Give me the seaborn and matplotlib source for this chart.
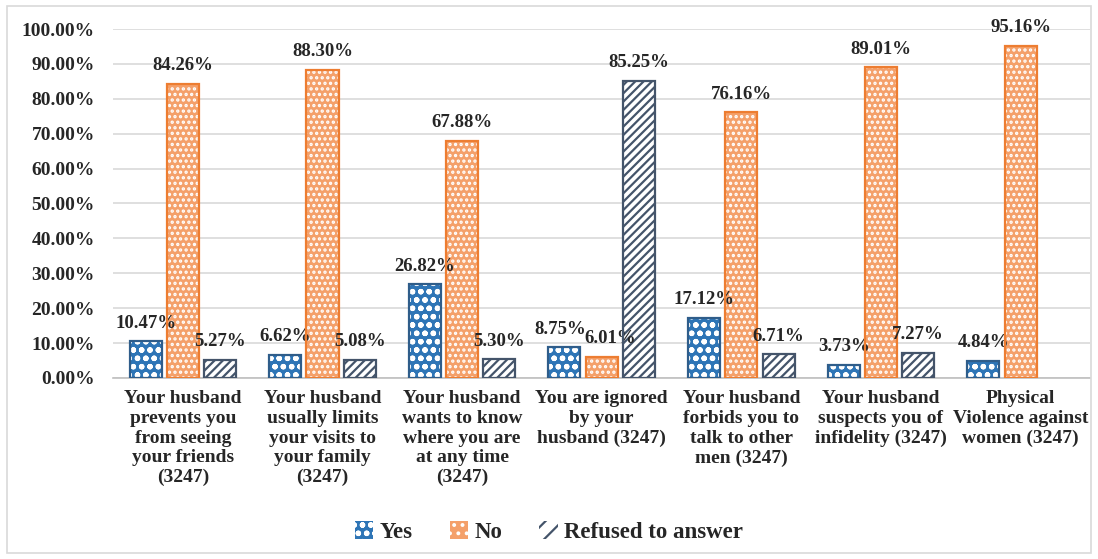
import numpy as np
import pandas as pd
import seaborn as sns
import matplotlib.pyplot as plt
from matplotlib.patches import Rectangle
from matplotlib.ticker import FuncFormatter

# categories and series values (percent)
categories = [
    "Your husband\nprevents you\nfrom seeing\nyour friends\n(3247)",
    "Your husband\nusually limits\nyour visits to\nyour family\n(3247)",
    "Your husband\nwants to know\nwhere you are\nat any time\n(3247)",
    "You are ignored\nby your\nhusband (3247)",
    "Your husband\nforbids you to\ntalk to other\nmen (3247)",
    "Your husband\nsuspects you of\ninfidelity (3247)",
    "Physical\nViolence against\nwomen (3247)",
]
yes_vals = [10.47, 6.62, 26.82, 8.75, 17.12, 3.73, 4.84]
no_vals = [84.26, 88.30, 67.88, 6.01, 76.16, 89.01, 95.16]
refused_vals = [5.27, 5.08, 5.30, 85.25, 6.71, 7.27, 0.0]
series = ["Yes", "No", "Refused to answer"]

df = pd.DataFrame({
    "cat": categories * 3,
    "resp": sum([[s] * len(categories) for s in series], []),
    "pct": yes_vals + no_vals + refused_vals,
})

sns.set_style("white")
plt.rcParams["font.family"] = ["Liberation Serif", "DejaVu Serif"]
plt.rcParams["font.weight"] = "bold"
plt.rcParams["hatch.linewidth"] = 1.6

fig = plt.figure(figsize=(10.98, 5.59), dpi=100)
ax = fig.add_axes([0.103, 0.324, 0.890, 0.624])

sns.barplot(data=df, x="cat", y="pct", hue="resp", hue_order=series,
            order=categories, width=0.8, ax=ax, legend=False, errorbar=None)

# style per series: face, hatch, hatch colour, outline
styles = {
    "Yes": ("#2E75B6", "oo", "white", "#2F5D8A"),
    "No": ("#F4A06A", "...", "white", "#ED7D31"),
    "Refused to answer": ("white", "////", "#44546A", "#44546A"),
}
# small sideways nudges (points) for crowded labels: (series, category index)
nudges = {("Yes", 3): -3, ("No", 3): 6}

handles = []
for cont, s in zip(ax.containers, series):
    face, hatch, hcol, edge = styles[s]
    for p in cont.patches:
        w = p.get_width()
        p.set_x(p.get_x() + w * 0.07)
        p.set_width(w * 0.86)
        p.set_facecolor(face)
        p.set_hatch(hatch)
        p.set_edgecolor(hcol)
        p.set_linewidth(0)
        if p.get_height() > 0:
            ax.add_patch(Rectangle((p.get_x(), 0), p.get_width(), p.get_height(),
                                   fill=False, edgecolor=edge, linewidth=1.6, zorder=3))
    labels = [f"{v:.2f}%" if v > 0 else "" for v in cont.datavalues]
    texts = ax.bar_label(cont, labels=labels, padding=7, fontsize=13.5, fontweight="bold")
    for i, t in enumerate(texts):
        if (s, i) in nudges:
            dx, dy = t.xyann
            t.xyann = (dx + nudges[(s, i)], dy)
    handles.append(Rectangle((0, 0), 1, 1, facecolor=face, hatch=hatch[:2],
                             edgecolor=hcol, linewidth=0))

ax.set_ylim(0, 100)
ax.set_yticks(np.arange(0, 101, 10))
ax.yaxis.set_major_formatter(FuncFormatter(lambda v, _: f"{v:.2f}%"))
ax.yaxis.grid(True, color="#D9D9D9", linewidth=1.2)
ax.set_axisbelow(True)
for sp in ["top", "right", "left"]:
    ax.spines[sp].set_visible(False)
ax.spines["bottom"].set_color("#BFBFBF")
ax.spines["bottom"].set_linewidth(1.2)
ax.tick_params(axis="y", labelsize=14, length=0, pad=13)
ax.tick_params(axis="x", labelsize=14, length=0, pad=9)
ax.set_xlabel("")
ax.set_ylabel("")
for t in ax.get_xticklabels() + ax.get_yticklabels():
    t.set_fontweight("bold")
    t.set_linespacing(1.2)

fig.legend(handles, series, loc="center", bbox_to_anchor=(0.5, 0.048), ncol=3,
           frameon=False, prop={"size": 16.5, "weight": "bold"},
           handlelength=0.8, handleheight=0.8, handletextpad=0.3, columnspacing=1.6)

fig.add_artist(Rectangle((0.006, 0.01), 0.988, 0.98, transform=fig.transFigure,
                         fill=False, edgecolor="#D9D9D9", linewidth=1.2))

fig.savefig("out.png", dpi=100)
